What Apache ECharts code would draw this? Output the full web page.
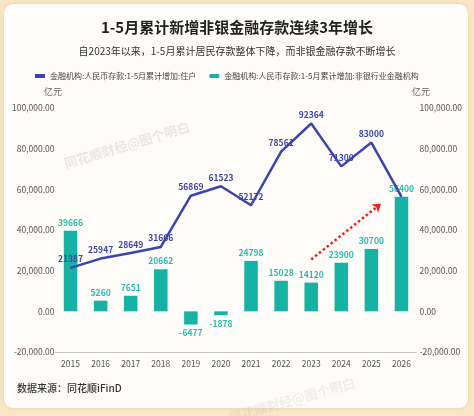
<!DOCTYPE html>
<html><head><meta charset="utf-8">
<script src="https://cdn.jsdelivr.net/npm/echarts@6/dist/echarts.min.js"></script>
<style>html,body{margin:0;padding:0;background:#fae6c6;}#c{width:474px;height:416px;}</style>
</head><body><div id="c"></div>
<script>
const categories = ['2015','2016','2017','2018','2019','2020','2021','2022','2023','2024','2025','2026'];
const householdValues = [21387,25947,28649,31666,56869,61523,52172,78561,92364,71300,83000,56400];
const nonBankValues = [39666,5260,7651,20662,-6477,-1878,24798,15028,14120,23900,30700,56400];
const arrowFrom = [8, 25500];
const arrowTo = [10.32, 53000];
const titleText = '1-5月累计新增非银金融存款连续3年增长';
const subText = '自2023年以来，1-5月累计居民存款整体下降，而非银金融存款不断增长';
const lineName = '金融机构:人民币存款:1-5月累计增加:住户';
const barName = '金融机构:人民币存款:1-5月累计增加:非银行业金融机构';
const unitName = '亿元';

const FONT = '"Noto Sans CJK SC", "Noto Sans", sans-serif';
const LINE_C = '#3a44ad';
const BAR_C = '#16b3a4';
const fmt = v => v.toLocaleString('en-US', {minimumFractionDigits: 2, maximumFractionDigits: 2});

const chart = echarts.init(document.getElementById('c'));
chart.setOption({
  backgroundColor: 'transparent',
  textStyle: {fontFamily: FONT},
  animation: false,
  graphic: [
    {type: 'rect', z: -10, shape: {x: 4, y: 4, width: 464, height: 404, r: 9},
     style: {fill: '#fefcf8', shadowBlur: 4, shadowColor: 'rgba(200,160,100,0.35)'}},
    {type: 'text', left: 17, top: 383, style: {text: '数据来源：同花顺iFinD', fill: '#333', font: '500 10px ' + FONT}},
    {type: 'text', x: 53, y: 92, style: {text: unitName, fill: '#666', font: '9px ' + FONT, align: 'center', verticalAlign: 'middle'}},
    {type: 'text', x: 421, y: 92, style: {text: unitName, fill: '#666', font: '9px ' + FONT, align: 'center', verticalAlign: 'middle'}},
    {type: 'text', x: 127, y: 145, rotation: 16.7 * Math.PI / 180, style: {text: '同花顺财经@图个明白', fill: 'rgba(170,170,170,0.25)', font: 'bold 13px ' + FONT, align: 'center', verticalAlign: 'middle'}},
    {type: 'text', x: 292, y: 400, rotation: 16 * Math.PI / 180, style: {text: '同花顺财经@图个明白', fill: 'rgba(170,170,170,0.18)', font: 'bold 13px ' + FONT, align: 'center', verticalAlign: 'middle'}}
  ],
  title: [
    {text: titleText, left: 'center', top: 15, textStyle: {fontSize: 15, fontWeight: 'bold', color: '#222', fontFamily: FONT}},
    {text: subText, left: 'center', top: 41, textStyle: {fontSize: 10, fontWeight: 'normal', color: '#333', fontFamily: FONT}}
  ],
  legend: {
    left: 30, top: 67, itemWidth: 10, itemHeight: 4, itemGap: 13,
    textStyle: {fontSize: 8, color: '#444', fontFamily: FONT},
    data: [{name: lineName, icon: 'rect'}, {name: barName, icon: 'roundRect'}]
  },
  grid: {left: 55.5, right: 57.5, top: 108, bottom: 64},
  xAxis: [
    {type: 'category', data: categories, position: 'bottom',
     axisLine: {onZero: false, lineStyle: {color: '#c4c4c4', width: 1}},
     axisTick: {show: false},
     axisLabel: {fontSize: 8.5, color: '#555', margin: 8}},
    {type: 'value', min: -0.5, max: 11.5, show: false}
  ],
  yAxis: [
    {type: 'value', min: -20000, max: 100000, interval: 20000,
     splitLine: {show: false}, axisLine: {show: false}, axisTick: {show: false},
     axisLabel: {fontSize: 8.5, color: '#555', margin: 1, formatter: fmt}},
    {type: 'value', min: -20000, max: 100000, interval: 20000, position: 'right',
     splitLine: {show: false}, axisLine: {show: false}, axisTick: {show: false},
     axisLabel: {fontSize: 8.5, color: '#555', margin: 3, formatter: fmt}}
  ],
  series: [
    {name: barName, type: 'bar', barWidth: 13.5, itemStyle: {color: BAR_C},
     data: nonBankValues.map(v => ({value: v, label: {position: v < 0 ? 'bottom' : 'top'}})),
     label: {show: true, color: '#2bbcae', fontSize: 8.5, fontWeight: 'bold', distance: 4}},
    {name: lineName, type: 'line', symbol: 'circle', symbolSize: 1, lineStyle: {color: LINE_C, width: 2.5},
     itemStyle: {color: LINE_C}, z: 5,
     data: householdValues.map((v, i) => i === householdValues.length - 1 ? {value: v, label: {show: false}} : v),
     label: {show: true, position: 'top', color: LINE_C, fontSize: 8.5, fontWeight: 'bold', distance: 4}},
    {type: 'line', xAxisIndex: 1, data: [], silent: true, z: 6,
     markLine: {silent: true, symbol: ['none', 'arrow'], symbolSize: 8, label: {show: false},
       lineStyle: {color: '#f02020', type: 'dotted', width: 2.5},
       data: [[{coord: arrowFrom}, {coord: arrowTo}]]}}
  ]
});
</script></body></html>
